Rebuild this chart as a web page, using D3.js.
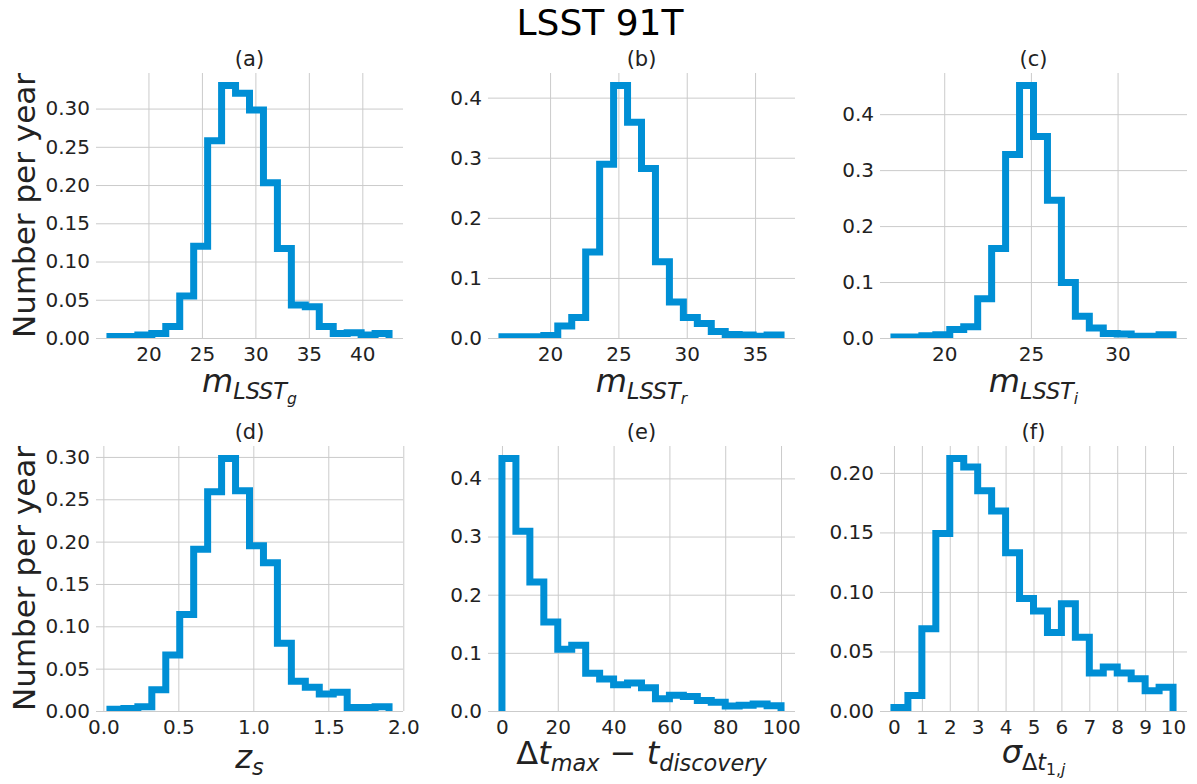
<!DOCTYPE html>
<html><head><meta charset="utf-8">
<script src="https://cdn.jsdelivr.net/npm/d3@7"></script>
<style>
body{margin:0;background:#fff}
text{font-family:"DejaVu Sans",sans-serif}
</style>
</head><body>
<svg id="chart" width="1197" height="784"></svg>
<script>
// ---------------- DATA ----------------
const figTitle = "LSST 91T";
const yAxisTitle = "Number per year";
const panelTitles = ["(a)", "(b)", "(c)", "(d)", "(e)", "(f)"];

// bin ranges (first edge, last edge), 20 bins each
const binRangeA = [16.4, 42.5];
const binRangeB = [16.48, 36.9];
const binRangeC = [17.1, 33.2];
const binRangeD = [0.044, 1.905];
const binRangeE = [0, 100];
const binRangeF = [0, 10];

const valuesA = [0.002, 0.002, 0.004, 0.006, 0.015, 0.055, 0.120, 0.258, 0.330, 0.320,
                 0.298, 0.203, 0.117, 0.043, 0.041, 0.015, 0.006, 0.007, 0.004, 0.006];
const valuesB = [0.002, 0.002, 0.002, 0.004, 0.020, 0.034, 0.143, 0.289, 0.420, 0.359,
                 0.282, 0.127, 0.060, 0.034, 0.024, 0.011, 0.006, 0.005, 0.003, 0.005];
const valuesC = [0.002, 0.002, 0.004, 0.006, 0.015, 0.020, 0.070, 0.160, 0.328, 0.451,
                 0.360, 0.246, 0.099, 0.039, 0.018, 0.008, 0.007, 0.003, 0.003, 0.006];
const valuesD = [0.002, 0.003, 0.005, 0.025, 0.066, 0.114, 0.191, 0.259, 0.298, 0.260,
                 0.195, 0.175, 0.080, 0.035, 0.028, 0.020, 0.022, 0.004, 0.004, 0.005];
const valuesE = [0.434, 0.309, 0.222, 0.153, 0.106, 0.113, 0.065, 0.055, 0.045, 0.048,
                 0.040, 0.021, 0.027, 0.025, 0.018, 0.015, 0.0085, 0.010, 0.012, 0.009];
const valuesF = [0.003, 0.013, 0.069, 0.149, 0.212, 0.205, 0.185, 0.168, 0.133, 0.0945,
                 0.084, 0.066, 0.090, 0.062, 0.032, 0.037, 0.032, 0.027, 0.017, 0.020];

const xTicksA = [20, 25, 30, 35, 40];
const xTicksB = [20, 25, 30, 35];
const xTicksC = [20, 25, 30];
const xTicksD = [0.0, 0.5, 1.0, 1.5, 2.0];
const xTicksE = [0, 20, 40, 60, 80, 100];
const xTicksF = [0, 1, 2, 3, 4, 5, 6, 7, 8, 9, 10];

const yTicksA = [0.00, 0.05, 0.10, 0.15, 0.20, 0.25, 0.30];
const yTicksB = [0.0, 0.1, 0.2, 0.3, 0.4];
const yTicksC = [0.0, 0.1, 0.2, 0.3, 0.4];
const yTicksD = [0.00, 0.05, 0.10, 0.15, 0.20, 0.25, 0.30];
const yTicksE = [0.0, 0.1, 0.2, 0.3, 0.4];
const yTicksF = [0.00, 0.05, 0.10, 0.15, 0.20];

// x-axis labels as mathtext-like segments: [text, level, italic]
const xLabelA = [["m", 0, true], ["LSST", 1, true], ["g", 2, true]];
const xLabelB = [["m", 0, true], ["LSST", 1, true], ["r", 2, true]];
const xLabelC = [["m", 0, true], ["LSST", 1, true], ["i", 2, true]];
const xLabelD = [["z", 0, true], ["s", 1, true]];
const xLabelE = [["\u0394", 0, false], ["t", 0, true], ["max", 1, true], ["\u00a0\u2212\u00a0", 0, false], ["t", 0, true], ["discovery", 1, true]];
const xLabelF = [["\u03c3", 0, true], ["\u0394", 1, false], ["t", 1, true], ["1", 2, false], [",", 2, false], ["j", 2, true]];

// ---------------- LAYOUT / STYLE ----------------
const W = 1197, H = 784;
const colX = [96, 488, 880], axW = 307;
const rowY = [73, 446], axH = 265;
const lineColor = "#008fd5";
const gridColor = "#cbcbcb";
const tickFont = 20, labelFont = 31, xLabelFont = 32;
const xLabelBaseline = [392, 392, 392, 768, 764, 763];

const panels = [
  {title: panelTitles[0], range: binRangeA, values: valuesA, xt: xTicksA, yt: yTicksA, xf: d3.format("d"), yf: d3.format(".2f"), xl: xLabelA},
  {title: panelTitles[1], range: binRangeB, values: valuesB, xt: xTicksB, yt: yTicksB, xf: d3.format("d"), yf: d3.format(".1f"), xl: xLabelB},
  {title: panelTitles[2], range: binRangeC, values: valuesC, xt: xTicksC, yt: yTicksC, xf: d3.format("d"), yf: d3.format(".1f"), xl: xLabelC},
  {title: panelTitles[3], range: binRangeD, values: valuesD, xt: xTicksD, yt: yTicksD, xf: d3.format(".1f"), yf: d3.format(".2f"), xl: xLabelD},
  {title: panelTitles[4], range: binRangeE, values: valuesE, xt: xTicksE, yt: yTicksE, xf: d3.format("d"), yf: d3.format(".1f"), xl: xLabelE},
  {title: panelTitles[5], range: binRangeF, values: valuesF, xt: xTicksF, yt: yTicksF, xf: d3.format("d"), yf: d3.format(".2f"), xl: xLabelF},
];

const svg = d3.select("#chart");
svg.append("rect").attr("width", W).attr("height", H).attr("fill", "#fff");

svg.append("text").attr("x", 600).attr("y", 35).attr("text-anchor", "middle")
  .attr("font-size", 36).attr("fill", "#000").text(figTitle);

panels.forEach((p, i) => {
  const c = i % 3, r = Math.floor(i / 3);
  const x0 = colX[c], y0 = rowY[r];
  const n = p.values.length;
  const [lo, hi] = p.range;
  const edges = d3.range(n + 1).map(k => lo + (hi - lo) * k / n);
  const pad = 0.05 * (hi - lo);
  const x = d3.scaleLinear().domain([lo - pad, hi + pad]).range([x0, x0 + axW]);
  const y = d3.scaleLinear().domain([0, d3.max(p.values) * 1.05]).range([y0 + axH, y0]);

  const g = svg.append("g");
  // grid
  g.append("g").call(d3.axisLeft(y).tickValues(p.yt).tickSize(-axW).tickFormat(p.yf).tickPadding(6))
    .attr("transform", `translate(${x0},0)`)
    .call(s => s.select(".domain").remove())
    .call(s => s.selectAll("line").attr("stroke", gridColor).attr("stroke-width", 1))
    .call(s => s.selectAll("text").attr("font-size", tickFont).attr("fill", "#222").attr("font-family", "DejaVu Sans"));
  g.append("g").call(d3.axisBottom(x).tickValues(p.xt).tickSize(-axH).tickFormat(p.xf).tickPadding(9))
    .attr("transform", `translate(0,${y0 + axH})`)
    .call(s => s.select(".domain").remove())
    .call(s => s.selectAll("line").attr("stroke", gridColor).attr("stroke-width", 1))
    .call(s => s.selectAll("text").attr("font-size", tickFont).attr("fill", "#222").attr("font-family", "DejaVu Sans"));

  // clip
  const cid = "clip" + i;
  svg.append("clipPath").attr("id", cid).append("rect")
    .attr("x", x0).attr("y", y0).attr("width", axW).attr("height", axH);

  // step outline
  const pts = [[edges[0], 0]];
  p.values.forEach((v, k) => { pts.push([edges[k], v]); pts.push([edges[k + 1], v]); });
  pts.push([edges[n], 0]);
  g.append("path").datum(pts)
    .attr("clip-path", `url(#${cid})`)
    .attr("d", d3.line().x(d => x(d[0])).y(d => y(d[1])))
    .attr("fill", "none").attr("stroke", lineColor).attr("stroke-width", 7)
    .attr("stroke-linejoin", "miter").attr("stroke-linecap", "butt");

  // panel title
  g.append("text").attr("x", x0 + axW / 2).attr("y", y0 - 7).attr("text-anchor", "middle")
    .attr("font-size", 21).attr("fill", "#222").text(p.title);

  // x label (mathtext-like)
  const sizes = [xLabelFont, xLabelFont * 0.7, xLabelFont * 0.49];
  const offs = [0, xLabelFont * 0.23, xLabelFont * 0.23 + xLabelFont * 0.16];
  const t = g.append("text").attr("x", x0 + axW / 2).attr("y", xLabelBaseline[i])
    .attr("text-anchor", "middle").attr("fill", "#222");
  let cur = 0;
  p.xl.forEach(([txt, lvl, it]) => {
    t.append("tspan").attr("dy", offs[lvl] - cur).attr("font-size", sizes[lvl])
      .attr("font-style", it ? "italic" : "normal").text(txt);
    cur = offs[lvl];
  });

  // y label
  if (c === 0) {
    svg.append("text").attr("transform", `translate(35,${y0 + axH / 2}) rotate(-90)`)
      .attr("text-anchor", "middle").attr("font-size", labelFont).attr("fill", "#222").text(yAxisTitle);
  }
});
</script>
</body></html>
